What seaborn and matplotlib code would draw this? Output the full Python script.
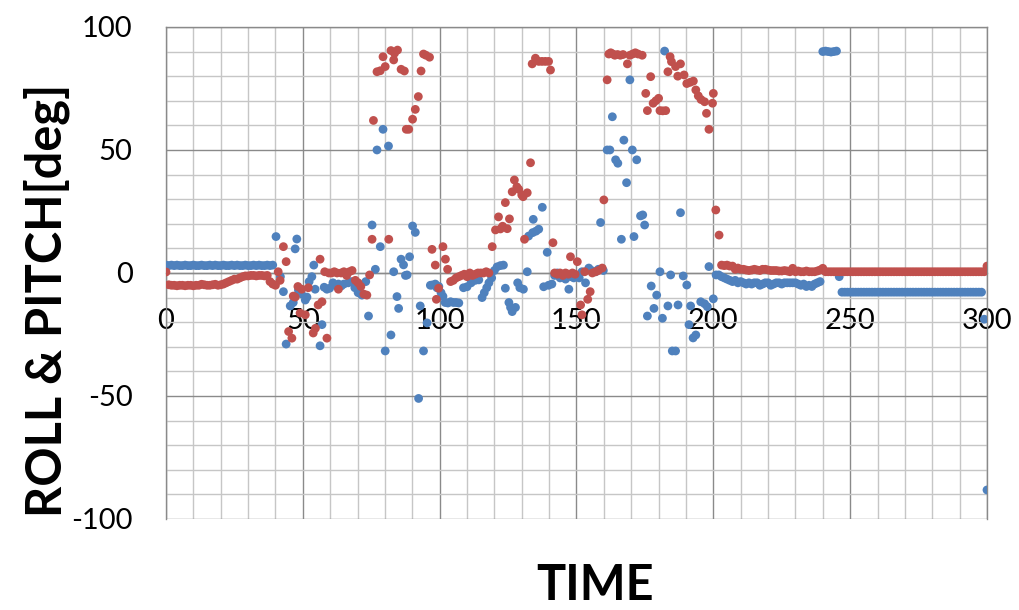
import pandas as pd
import numpy as np
import matplotlib
matplotlib.use('Agg')
import matplotlib.pyplot as plt
from matplotlib.ticker import MultipleLocator
import seaborn as sns

# ---- data ----
# ROLL (blue): steady part at start
roll_start_t = list(range(0, 40))
roll_start = [3.2, 3.0, 3.2, 3.0, 3.2, 3.0, 3.0, 3.2, 3.0, 3.0,
              3.2, 3.0, 3.0, 3.2, 3.0, 3.0, 3.2, 3.0, 3.2, 3.0,
              3.0, 3.2, 3.0, 3.0, 3.2, 3.0, 3.2, 3.0, 3.0, 3.2,
              3.0, 3.0, 3.2, 3.0, 3.2, 3.0, 3.0, 3.2, 3.0, 3.2]

# ROLL: scattered manoeuvre part
roll_mid_t = [40.2, 41.8, 42.9, 43.9, 45.4, 46.5, 47.2, 47.8, 48.4, 49.5,
              50.9, 51.5, 52.3, 53.3, 54.0, 54.5, 56.3, 57.0, 57.8, 58.8,
              59.8, 61.0, 62.0, 63.0, 64.0, 65.0, 66.6, 67.8, 69.0, 70.2,
              71.6, 73.0, 74.0, 75.3, 76.5, 77.1, 78.3, 79.3, 80.1, 81.3,
              82.2, 83.2, 84.4, 85.0, 85.9, 86.8, 87.5, 88.1, 89.0, 90.1,
              91.1, 92.3, 92.9, 94.1, 95.4, 96.6, 97.2, 98.4, 99.0, 99.7,
              100.5, 101.2, 102.0, 103.0, 104.0, 105.0, 106.0, 107.0, 108.7, 110.0,
              111.5, 113.0, 114.3, 115.5, 116.3, 117.2, 118.0, 119.0, 120.0, 121.0,
              122.2, 123.3, 124.0, 125.3, 125.9, 126.5, 127.7, 128.5, 129.3, 130.6,
              132.0, 132.5, 134.0, 134.2, 135.2, 136.2, 137.5, 138.0, 139.3, 139.8,
              141.0, 142.0, 143.0, 144.0, 145.0, 146.0, 147.2, 148.0, 149.0, 150.0,
              151.0, 152.0, 153.3, 154.5, 155.5, 157.0, 158.0, 158.8, 159.8, 161.2,
              162.2, 163.1, 164.3, 165.1, 166.4, 167.3, 168.3, 169.5, 170.4, 171.0,
              172.0, 173.4, 174.2, 174.9, 175.9, 177.3, 178.3, 179.3, 180.5, 181.4,
              182.2, 183.4, 184.4, 185.0, 186.2, 187.1, 188.0, 189.0, 190.3, 191.1,
              191.7, 192.6, 193.6, 195.4, 196.8, 197.8, 198.4, 200.0]
roll_mid = [14.8, -1.5, -7.6, -28.9, -13.4, -12.0, 9.8, 13.8, -7.0, -8.5,
            -11.0, -9.8, -3.5, -1.5, 3.2, -6.6, -29.6, -21.0, -5.8, -6.6,
            -6.2, -4.0, -5.0, -4.5, -5.3, -4.5, -4.0, -3.5, -6.0, -8.0,
            -9.0, -3.5, -17.5, 19.5, 1.5, 50.0, 10.7, 58.4, -31.7, 51.6,
            -25.2, 0.5, -9.6, -14.4, 5.6, 3.3, -1.0, -0.8, 6.6, 19.1,
            16.5, -51.0, -13.4, -31.7, -20.3, -5.0, -4.9, -4.5, -6.0, -5.5,
            -8.0, -9.5, -12.0, -12.2, -11.7, -12.0, -12.0, -12.2, -6.0, -5.6,
            -4.0, -3.0, -2.8, -10.0, -8.0, -6.0, -4.0, -2.0, 1.0, 2.5,
            3.0, 3.2, -6.2, -12.0, -14.0, -15.7, -14.0, -4.0, -6.0, -6.6,
            0.5, 15.0, 16.4, 21.8, 17.0, 17.8, 26.7, -5.6, 8.4, -5.0,
            -4.5, -1.0, 0.0, -2.0, -1.0, -2.5, -6.6, -1.5, -2.0, -1.0,
            -2.0, 0.5, -4.0, 2.0, 1.0, 0.5, 1.5, 20.5, 1.0, 50.0,
            50.0, 63.5, 46.0, 44.6, 13.7, 54.0, 36.7, 78.5, 50.0, 14.8,
            46.0, 23.2, 23.6, 19.5, -17.5, -5.3, -14.4, -9.0, 0.5, -18.4,
            90.2, -13.4, -0.8, -31.7, -31.7, -13.0, 24.5, -1.2, -4.9, -21.0,
            -13.4, -26.4, -25.2, -11.7, -12.5, -13.7, 2.6, -10.5]

# ROLL: settling part and tail
roll_end_t = list(range(201, 301))
roll_end = [-0.8, -0.8, -1.5, -2.0, -2.5, -3.0, -3.5, -3.0, -4.0, -3.5,
            -4.0, -4.5, -4.0, -4.5, -4.0, -4.0, -5.0, -4.5, -4.0, -4.0,
            -5.0, -4.5, -4.0, -4.0, -4.5, -4.0, -4.0, -4.0, -4.0, -4.0,
            -4.5, -5.0, -4.5, -5.5, -5.0, -5.5, -4.5, -4.0, -3.5,
            90.0, 90.2, 90.0, 89.8, 90.0, 90.2,
            -1.5,
            -7.8, -7.8, -7.8, -7.8, -7.8, -7.8, -7.8, -7.8, -7.8, -7.8,
            -7.8, -7.8, -7.8, -7.8, -7.8, -7.8, -7.8, -7.8, -7.8, -7.8,
            -7.8, -7.8, -7.8, -7.8, -7.8, -7.8, -7.8, -7.8, -7.8, -7.8,
            -7.8, -7.8, -7.8, -7.8, -7.8, -7.8, -7.8, -7.8, -7.8, -7.8,
            -7.8, -7.8, -7.8, -7.8, -7.8, -7.8, -7.8, -7.8, -7.8, -7.8,
            -7.8, -7.8,
            -18.8, -88.2]

# PITCH (red): steady part at start
pitch_start_t = list(range(0, 41))
pitch_start = [0.4,
               -4.8, -5.0, -5.0, -5.2, -5.0, -5.0, -5.2, -5.0, -5.0, -5.2,
               -5.0, -5.0, -4.6, -4.8, -5.0, -5.0, -4.8, -4.6, -5.0, -4.8,
               -4.5,
               -4.0, -3.5, -3.0, -2.5, -2.5, -2.0, -1.5, -1.2, -1.2, -1.0,
               -1.0, -1.2, -1.0, -1.0, -1.2, -1.0,
               -3.5, -4.5, -5.0]

# PITCH: scattered manoeuvre part
pitch_mid_t = [41.0, 41.7, 42.9, 43.9, 44.8, 46.0, 46.5, 47.2, 48.2, 49.0,
               49.6, 50.9, 52.0, 53.8, 54.6, 55.6, 56.3, 57.0, 58.0, 58.8,
               59.5, 60.5, 61.5, 62.5, 63.0, 64.0, 65.0, 66.0, 67.0, 68.0,
               69.2, 70.2, 71.2, 72.3, 73.4, 74.4, 75.3, 75.8, 77.1, 78.3,
               79.3, 80.1, 81.4, 82.2, 83.2, 83.5, 84.6, 85.9, 87.1, 87.8,
               88.7, 90.1, 91.1, 92.2, 93.2, 94.1, 95.0, 96.3, 97.2, 98.4,
               98.8, 99.6, 101.2, 102.1, 102.9, 104.0, 105.0, 106.0, 107.0, 108.0,
               109.0, 110.0, 111.0, 112.0, 113.0, 114.0, 115.0, 116.0, 117.0, 118.0,
               119.2, 120.4, 121.5, 122.2, 123.0, 124.0, 124.7, 125.5, 126.5, 127.3,
               128.2, 128.9, 130.0, 130.5, 131.0, 132.0, 133.2, 133.8, 135.0, 136.2,
               137.4, 138.6, 139.8, 140.5, 141.4, 142.0, 143.0, 144.0, 145.0, 146.0,
               147.0, 147.8, 148.5, 149.5, 150.3, 151.5, 152.0, 153.0, 154.1, 155.0,
               155.8, 157.0, 158.0, 159.4, 160.0, 161.2, 161.8, 162.5, 163.3, 164.0,
               165.0, 166.0, 167.0, 168.6, 169.5, 170.5, 171.5, 172.5, 174.0, 175.3,
               175.9, 177.1, 178.0, 179.0, 180.0, 180.5, 181.5, 182.6, 183.4, 184.2,
               184.7, 186.2, 187.0, 188.0, 189.3, 190.3, 191.5, 192.7, 193.6, 194.5,
               195.5, 196.8, 197.5, 198.4, 199.7, 200.0, 200.9, 202.1]
pitch_mid = [0.5, -3.0, 10.7, 4.6, -23.8, -26.5, -9.4, -9.8, -5.5, -16.3,
             -6.6, -17.0, -6.0, -24.4, -22.5, -13.0, 5.6, -11.7, 0.5, -26.5,
             0.0, 0.0, 0.5, 0.0, -6.6, 0.0, 0.5, -1.0, 0.5, 1.0,
             -3.0, -4.0, -5.5, -8.6, -9.0, -0.8, 13.7, 62.0, 81.8, 82.2,
             87.9, 83.9, 13.7, 90.4, 86.6, 89.3, 90.6, 82.8, 82.1, 58.4,
             58.4, 62.5, 66.5, 71.7, 82.1, 89.0, 88.5, 87.7, 9.6, 3.2,
             -10.7, -6.2, 10.7, 5.6, 1.5, -3.5, -3.0, -2.0, -1.5, -1.0,
             -0.5, -1.5, 0.0, -1.0, -0.5, 0.0, 0.0, 0.0, 0.5, 0.0,
             10.7, 17.5, 22.8, 17.9, 19.0, 28.6, 18.0, 22.0, 33.0, 37.8,
             35.0, 34.0, 31.7, 31.0, 13.7, 32.6, 44.8, 85.0, 87.3, 86.0,
             86.0, 86.0, 86.0, 82.5, 12.3, 0.0, -0.5, 0.0, -1.0, 0.0,
             -0.5, 6.6, 0.0, -0.5, 4.6, -13.0, -17.0, 0.5, -10.7, -7.6,
             0.0, 0.5, 1.0, 2.0, 29.7, 78.5, 89.0, 89.5, 89.0, 88.5,
             88.8, 88.5, 88.8, 85.0, 88.5, 89.0, 89.5, 89.0, 88.5, 73.0,
             66.0, 79.8, 69.0, 70.0, 71.0, 66.0, 65.9, 66.0, 81.8, 87.9,
             85.9, 83.9, 80.0, 85.0, 80.5, 77.0, 77.5, 78.0, 74.4, 72.0,
             70.5, 69.6, 64.9, 58.4, 69.0, 73.0, 25.6, 15.4]

# PITCH: settling part and tail
pitch_end_t = list(range(203, 301))
pitch_end = [3.2, 3.0, 3.2, 2.8, 2.8, 1.5, 2.0, 1.5,
             1.5, 1.2, 1.0, 1.2, 1.5, 1.2, 1.0, 1.5, 1.5, 1.2,
             1.0, 1.0, 1.0, 0.8, 0.8, 1.0, 0.8, 0.5, 1.9, 0.5,
             0.8, 0.5, 0.5, 0.8, 0.5, 0.5, 0.5, 0.8, 1.2, 1.9,
             0.5, 0.5, 0.5, 0.5, 0.5, 0.5, 0.5, 0.5, 0.5, 0.5,
             0.5, 0.5, 0.5, 0.5, 0.5, 0.5, 0.5, 0.5, 0.5, 0.5,
             0.5, 0.5, 0.5, 0.5, 0.5, 0.5, 0.5, 0.5, 0.5, 0.5,
             0.5, 0.5, 0.5, 0.5, 0.5, 0.5, 0.5, 0.5, 0.5, 0.5,
             0.5, 0.5, 0.5, 0.5, 0.5, 0.5, 0.5, 0.5, 0.5, 0.5,
             0.5, 0.5, 0.5, 0.5, 0.5, 0.5, 0.5, 0.5, 0.5,
             2.8]

roll = pd.DataFrame({'time': roll_start_t + roll_mid_t + roll_end_t,
                     'deg': roll_start + roll_mid + roll_end})
roll['series'] = 'ROLL'
pitch = pd.DataFrame({'time': pitch_start_t + pitch_mid_t + pitch_end_t,
                      'deg': pitch_start + pitch_mid + pitch_end})
pitch['series'] = 'PITCH'
df = pd.concat([roll, pitch], ignore_index=True)

# ---- plot ----
sns.set_style('white')
plt.rcParams['font.family'] = ['Lato', 'DejaVu Sans']
plt.rcParams['axes.unicode_minus'] = False
plt.rcParams['text.color'] = 'black'

fig = plt.figure(figsize=(10.19, 6.10), dpi=100)
ax = fig.add_axes([0.1629, 0.1492, 0.8057, 0.8066])

sns.scatterplot(data=df, x='time', y='deg', hue='series',
                palette={'ROLL': '#4F81BD', 'PITCH': '#C0504D'},
                s=40, linewidth=0, legend=False, ax=ax, zorder=3)

ax.set_xlim(0, 300)
ax.set_ylim(-100, 100)
ax.xaxis.set_major_locator(MultipleLocator(50))
ax.xaxis.set_minor_locator(MultipleLocator(10))
ax.yaxis.set_major_locator(MultipleLocator(50))
ax.yaxis.set_minor_locator(MultipleLocator(10))

ax.set_axisbelow(True)
major_grey = '#8A8A8A'
ax.grid(which='major', color=major_grey, linewidth=1.0)
ax.grid(which='minor', color='#C6C6C6', linewidth=1.0)

ax.spines['bottom'].set_position(('data', 0))
for side in ['bottom', 'top', 'right', 'left']:
    ax.spines[side].set_color(major_grey)
    ax.spines[side].set_linewidth(1.0)

ax.tick_params(axis='x', which='both', length=0, pad=25, labelsize=21,
               labelcolor='black')
ax.tick_params(axis='y', which='major', length=8, width=1, color=major_grey,
               pad=16, labelsize=21, labelcolor='black')
ax.tick_params(axis='y', which='minor', length=0)

ax.set_xlabel('')
ax.set_ylabel('')
fig.text(47 / 1019, 1 - 300 / 610, 'ROLL & PITCH[deg]', rotation=90,
         ha='center', va='center', fontsize=35, fontweight='bold', color='black')
fig.text(595 / 1019, 1 - 585 / 610, 'TIME', ha='center', va='center',
         fontsize=35, fontweight='bold', color='black')

fig.savefig('out.png', dpi=100)
